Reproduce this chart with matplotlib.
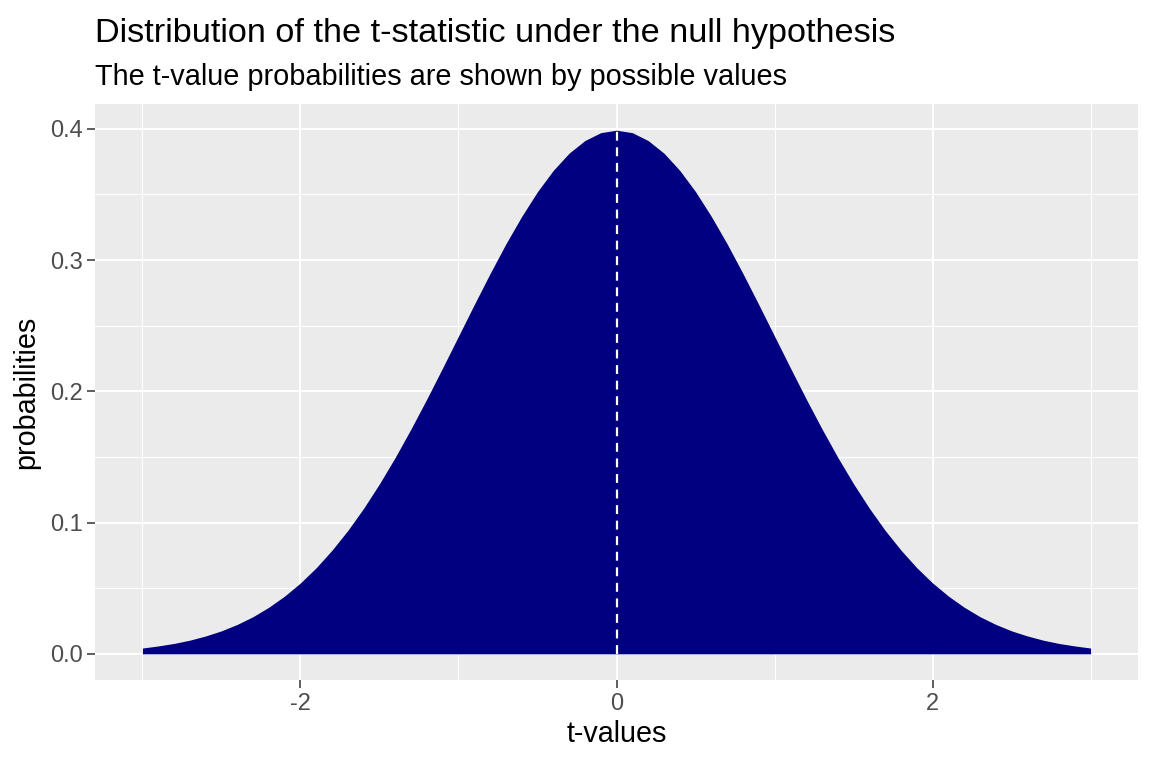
import numpy as np
import matplotlib
matplotlib.use("Agg")
import matplotlib.pyplot as plt

plt.rcParams['font.family'] = ['Liberation Sans', 'DejaVu Sans']

# t-values and their probabilities (step 0.1)
t_values = [-3.0, -2.9, -2.8, -2.7, -2.6, -2.5, -2.4, -2.3, -2.2, -2.1,
            -2.0, -1.9, -1.8, -1.7, -1.6, -1.5, -1.4, -1.3, -1.2, -1.1,
            -1.0, -0.9, -0.8, -0.7, -0.6, -0.5, -0.4, -0.3, -0.2, -0.1,
            0.0, 0.1, 0.2, 0.3, 0.4, 0.5, 0.6, 0.7, 0.8, 0.9,
            1.0, 1.1, 1.2, 1.3, 1.4, 1.5, 1.6, 1.7, 1.8, 1.9,
            2.0, 2.1, 2.2, 2.3, 2.4, 2.5, 2.6, 2.7, 2.8, 2.9, 3.0]
probabilities = [0.0044, 0.0060, 0.0079, 0.0104, 0.0136, 0.0175, 0.0224, 0.0283,
                 0.0355, 0.0440, 0.0540, 0.0656, 0.0790, 0.0940, 0.1109, 0.1295,
                 0.1497, 0.1714, 0.1942, 0.2179, 0.2420, 0.2661, 0.2897, 0.3123,
                 0.3332, 0.3521, 0.3683, 0.3814, 0.3910, 0.3970, 0.3989,
                 0.3970, 0.3910, 0.3814, 0.3683, 0.3521, 0.3332, 0.3123, 0.2897,
                 0.2661, 0.2420, 0.2179, 0.1942, 0.1714, 0.1497, 0.1295, 0.1109,
                 0.0940, 0.0790, 0.0656, 0.0540, 0.0440, 0.0355, 0.0283, 0.0224,
                 0.0175, 0.0136, 0.0104, 0.0079, 0.0060, 0.0044]
x_ticks = [-2, 0, 2]
x_minor = [-3, -1, 1, 3]
y_ticks = [0.0, 0.1, 0.2, 0.3, 0.4]
y_minor = [0.05, 0.15, 0.25, 0.35]

W, H = 1152, 768
fig = plt.figure(figsize=(W / 100, H / 100), dpi=100)
ax = fig.add_axes([95 / W, 88 / H, (1138 - 95) / W, (680 - 104) / H])
ax.set_facecolor('#EBEBEB')

for v in x_minor:
    ax.axvline(v, color='white', lw=0.75, zorder=0)
for v in y_minor:
    ax.axhline(v, color='white', lw=0.75, zorder=0)
for v in x_ticks:
    ax.axvline(v, color='white', lw=1.5, zorder=0)
for v in y_ticks:
    ax.axhline(v, color='white', lw=1.5, zorder=0)

ax.fill_between(t_values, 0, probabilities, color='#000080', lw=0, zorder=2)
peak = max(probabilities)
ax.plot([0, 0], [0, peak], color='white', lw=1.6, linestyle=(0, (4, 3)), zorder=3)

xr = max(t_values) - min(t_values)
ax.set_xlim(min(t_values) - 0.05 * xr, max(t_values) + 0.05 * xr)
ax.set_ylim(-0.05 * peak, peak * 1.05)

ax.set_xticks(x_ticks)
ax.set_xticklabels([str(v) for v in x_ticks])
ax.set_yticks(y_ticks)
ax.set_yticklabels([f'{v:.1f}' for v in y_ticks])
ax.tick_params(axis='both', length=6, width=1.1, color='#333333',
               labelcolor='#4D4D4D', labelsize=17, pad=3)
for s in ax.spines.values():
    s.set_visible(False)

ax.set_xlabel('t-values', fontsize=20.7, color='black', labelpad=4)
ax.set_ylabel('probabilities', fontsize=20.7, color='black', labelpad=7)

fig.text(95 / W, 1 - 42 / H, 'Distribution of the t-statistic under the null hypothesis',
         fontsize=24.7, ha='left', va='baseline')
fig.text(95 / W, 1 - 85 / H, 'The t-value probabilities are shown by possible values',
         fontsize=20.8, ha='left', va='baseline')

fig.savefig('out.png', dpi=100)
